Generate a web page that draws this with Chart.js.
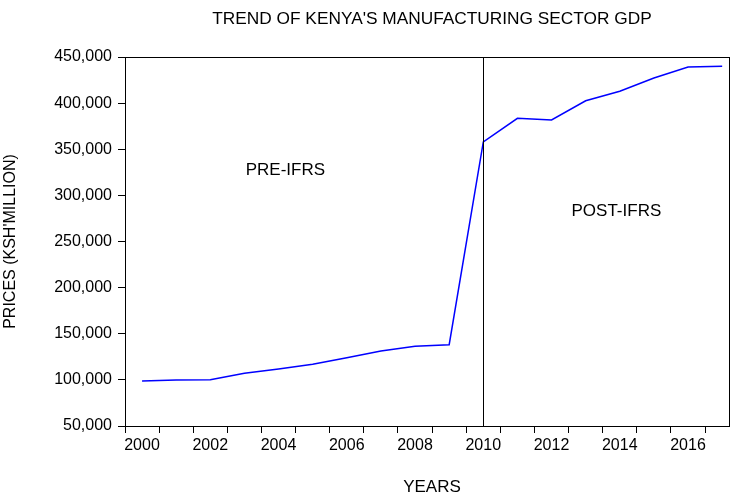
<!DOCTYPE html>
<html>
<head>
<meta charset="utf-8">
<title>Trend of Kenya's Manufacturing Sector GDP</title>
<script src="https://cdn.jsdelivr.net/npm/chart.js@4.4.1/dist/chart.umd.min.js"></script>
<style>
  html, body { margin: 0; padding: 0; background: #fff; }
  #wrap { width: 730px; height: 496px; position: relative; }
</style>
</head>
<body>
<div id="wrap"><canvas id="gdpChart"></canvas></div>
<script>
const years = [2000, 2001, 2002, 2003, 2004, 2005, 2006, 2007, 2008,
  2009, 2010, 2011, 2012, 2013, 2014, 2015, 2016, 2017];
const gdp = [98800, 99900, 100200, 107100, 111800, 116900, 124000, 131300, 136400,
  138100, 357900, 383500, 381700, 402600, 412800, 427200, 439200, 439900];
const yTicks = [50000, 100000, 150000, 200000, 250000, 300000, 350000, 400000, 450000];
const xLabels = [2000, 2002, 2004, 2006, 2008, 2010, 2012, 2014, 2016];
const breakYear = 2010;

const FONT = "'Liberation Sans', Arial, sans-serif";

// EViews style: each year is an interval, ticks sit on the boundaries
const frameAndNotes = {
  id: "frameAndNotes",
  afterDatasetsDraw(chart) {
    const { ctx, chartArea: a, scales: { x, y } } = chart;
    ctx.save();
    ctx.strokeStyle = "#000";
    ctx.lineWidth = 1;
    // break line at 2010
    const bx = Math.round(x.getPixelForValue(breakYear)) + 0.5;
    ctx.beginPath();
    ctx.moveTo(bx, a.top);
    ctx.lineTo(bx, a.bottom);
    ctx.stroke();
    // frame
    ctx.strokeRect(Math.round(a.left) + 0.5, Math.round(a.top) + 0.5,
      Math.round(a.right - a.left), Math.round(a.bottom - a.top));
    // period notes
    ctx.fillStyle = "#000";
    ctx.font = "17px " + FONT;
    ctx.textAlign = "center";
    ctx.textBaseline = "middle";
    ctx.fillText("PRE-IFRS", x.getPixelForValue(2004.2), y.getPixelForValue(327000));
    ctx.fillText("POST-IFRS", x.getPixelForValue(2013.9), y.getPixelForValue(283000));
    // title and x title centred a little right of the plot centre
    const cx = (a.left + a.right) / 2 + 5;
    ctx.font = "17.3px " + FONT;
    ctx.fillText("TREND OF KENYA'S MANUFACTURING SECTOR GDP", cx, 19);
    ctx.font = "17px " + FONT;
    ctx.fillText("YEARS", cx, 487);
    ctx.restore();
  }
};

new Chart(document.getElementById("gdpChart"), {
  type: "line",
  data: {
    datasets: [
      {
        data: years.map((yr, i) => ({ x: yr, y: gdp[i] })),
        borderColor: "#0000ff",
        borderWidth: 1.5,
        tension: 0,
        pointRadius: 0,
        fill: false,
      },
    ],
  },
  options: {
    responsive: true,
    maintainAspectRatio: false,
    animation: false,
    layout: { padding: { top: 57, right: 1, left: 0, bottom: 0 } },
    plugins: {
      legend: { display: false },
      tooltip: { enabled: false },
    },
    scales: {
      x: {
        type: "linear",
        min: 1999.5,
        max: 2017.2,
        afterBuildTicks: (scale) => {
          const t = [];
          for (let v = 1999.5; v <= 2017; v += 1) t.push({ value: v });
          scale.ticks = t;
        },
        afterFit: (scale) => { scale.height = 70; },
        grid: { drawOnChartArea: false, tickLength: 7, color: "#000" },
        border: { color: "#000" },
        ticks: {
          autoSkip: false,
          maxRotation: 0,
          padding: 3,
          labelOffset: 17,
          color: "#000",
          font: { family: FONT, size: 16 },
          callback: (v) => (xLabels.includes(v + 0.5) ? String(v + 0.5) : ""),
        },
      },
      y: {
        min: 50000,
        max: 450000,
        afterBuildTicks: (scale) => {
          scale.ticks = yTicks.map((v) => ({ value: v }));
        },
        afterFit: (scale) => { scale.width = 125; },
        grid: { drawOnChartArea: false, tickLength: 7, color: "#000" },
        border: { color: "#000" },
        ticks: {
          padding: 6,
          color: "#000",
          font: { family: FONT, size: 16 },
          callback: (v) => v.toLocaleString("en-US"),
        },
        title: {
          display: true,
          text: "PRICES (KSH'MILLION)",
          color: "#000",
          font: { family: FONT, size: 16 },
          padding: { top: 1, bottom: 0 },
        },
      },
    },
  },
  plugins: [frameAndNotes],
});
</script>
</body>
</html>
